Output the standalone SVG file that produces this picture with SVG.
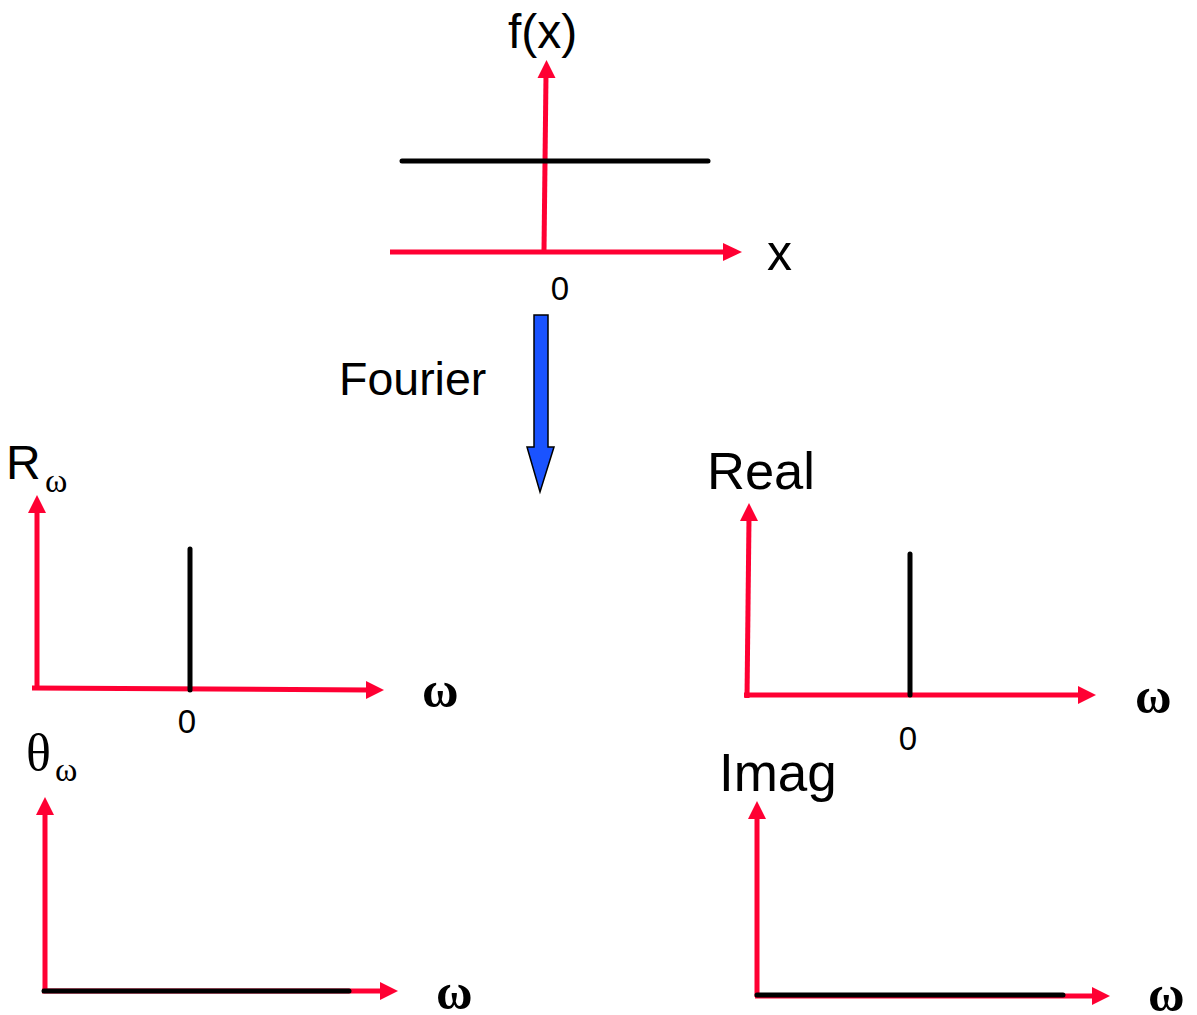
<svg xmlns="http://www.w3.org/2000/svg" width="1197" height="1015" viewBox="0 0 1197 1015">
<defs>
<style>
.ax{stroke:#ff0033;stroke-width:5;fill:none}
.sig{stroke:#000;stroke-width:5;stroke-linecap:round;fill:none}
.hd{fill:#ff0033}
.t{font-family:"Liberation Sans",Arial,sans-serif;fill:#000}
.g{font-family:"Liberation Serif","Times New Roman",serif;fill:#000}
</style>
</defs>
<rect width="1197" height="1015" fill="#fff"/>
<g id="connectors">
<line class="ax" x1="544" y1="250" x2="546" y2="75"/>
<polygon class="hd" points="546.5,60 555.5,78 537.5,78"/>
<line class="ax" x1="390" y1="252" x2="725" y2="252"/>
<polygon class="hd" points="742,252 723,243 723,261"/>
<line class="ax" x1="37" y1="690" x2="37" y2="510"/>
<polygon class="hd" points="37,495 46,513 28,513"/>
<line class="ax" x1="32" y1="688" x2="369" y2="690"/>
<polygon class="hd" points="384,690 366,681 366,699"/>
<line class="ax" x1="747" y1="698" x2="749" y2="518"/>
<polygon class="hd" points="749,503 758,521 740,521"/>
<line class="ax" x1="744" y1="695" x2="1080" y2="695"/>
<polygon class="hd" points="1096,695 1078,686 1078,704"/>
<line class="ax" x1="45" y1="993" x2="45" y2="812"/>
<polygon class="hd" points="45,797 54,815 36,815"/>
<line class="ax" x1="42" y1="991" x2="382" y2="991"/>
<polygon class="hd" points="398,991 380,982 380,1000"/>
<line class="ax" x1="757" y1="997" x2="757" y2="816"/>
<polygon class="hd" points="757,801 766,819 748,819"/>
<line class="ax" x1="755" y1="996" x2="1094" y2="996"/>
<polygon class="hd" points="1110,996 1092,987 1092,1005"/>
</g>
<g id="top-plot">
<line class="sig" x1="402" y1="161" x2="708" y2="161"/>
<text class="t" x="508" y="48" font-size="48">f(x)</text>
<text class="t" x="767" y="270" font-size="50">x</text>
<text class="t" x="560" y="300" font-size="33" text-anchor="middle">0</text>
</g>
<g id="fourier">
<path d="M534,315 H548 V447 H554 L540,492 L527,447 H534 Z" fill="#1a53ff" stroke="#000" stroke-width="1.5"/>
<text class="t" x="339" y="395" font-size="46.5">Fourier</text>
</g>
<g id="r-plot">
<line class="sig" x1="190" y1="549" x2="190" y2="690"/>
<text class="t" x="6" y="479" font-size="48">R</text>
<text class="g" x="45" y="492" font-size="34">ω</text>
<text class="t" x="187" y="733" font-size="33" text-anchor="middle">0</text>
<text class="g" x="422" y="707" font-size="50" font-weight="bold">ω</text>
</g>
<g id="theta-plot">
<line class="sig" x1="44" y1="991" x2="349" y2="991"/>
<text class="g" x="26" y="770" font-size="52">θ</text>
<text class="g" x="55" y="781" font-size="34">ω</text>
<text class="g" x="436" y="1009" font-size="50" font-weight="bold">ω</text>
</g>
<g id="real-plot">
<line class="sig" x1="910" y1="554" x2="910" y2="695"/>
<text class="t" x="707" y="489" font-size="52.5">Real</text>
<text class="t" x="908" y="750" font-size="33" text-anchor="middle">0</text>
<text class="g" x="1135" y="713" font-size="50" font-weight="bold">ω</text>
</g>
<g id="imag-plot">
<line class="sig" x1="757" y1="995" x2="1063" y2="995"/>
<text class="t" x="719" y="791" font-size="53">Imag</text>
<text class="g" x="1148" y="1011" font-size="50" font-weight="bold">ω</text>
</g>
</svg>
